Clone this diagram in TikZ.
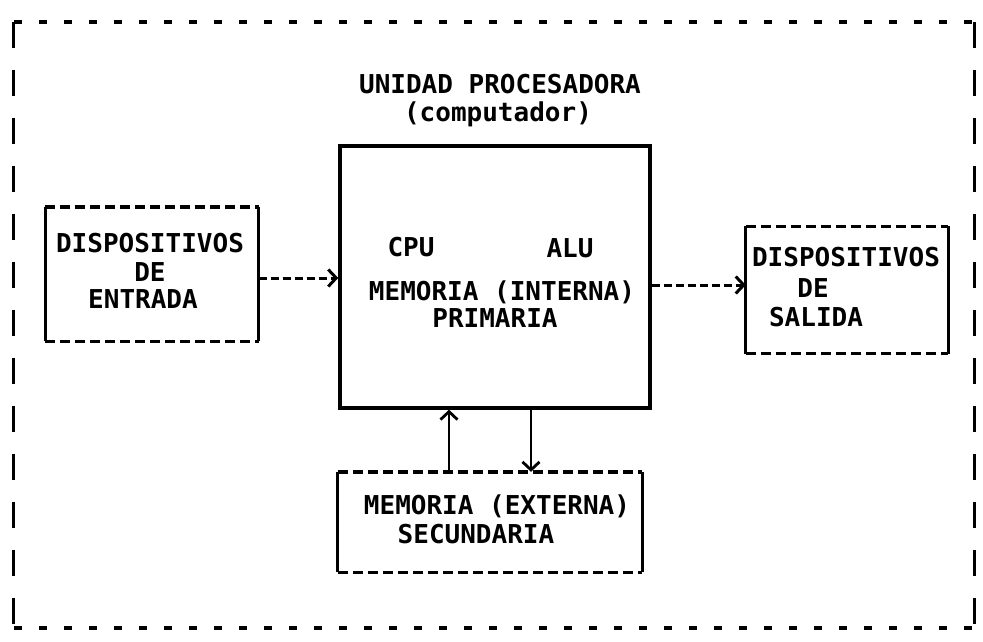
\documentclass[tikz,border=0pt]{standalone}
\usepackage{fontspec}
\setmainfont{DejaVu Sans Mono}
\usetikzlibrary{arrows.meta}
\begin{document}
\begin{tikzpicture}[x=1pt,y=-1pt,
  lbl/.style={font=\fontsize{26}{30}\selectfont\bfseries, inner sep=0pt, anchor=center},
  area/.style={rectangle, inner sep=0pt, draw=none},
  dashedge/.style={line width=3.4pt, dash pattern=on 10pt off 5pt},
  solidedge/.style={line width=3pt},
  frameh/.style={line width=3.6pt, dash pattern=on 8pt off 17pt},
  framev/.style={line width=2.8pt, dash pattern=on 26pt off 22pt},
  dashconn/.style={line width=3pt, dash pattern=on 8pt off 4pt, -{Straight Barb[length=8pt,width=17pt]}},
  solidconn/.style={line width=2.8pt, -{Straight Barb[length=8pt,width=17pt]}},
]
\useasboundingbox (0,0) rectangle (983,642);

% outer system frame
\node[area, minimum width=960pt, minimum height=606pt] (sys) at (494,325) {};
\draw[frameh] (sys.north west) -- (sys.north east);
\draw[frameh] (sys.south west) -- (sys.south east);
\draw[framev] (sys.north west) -- (sys.south west);
\draw[framev] (sys.north east) -- (sys.south east);

% title
\node[lbl] (t1) at (500,84) {UNIDAD PROCESADORA};
\node[lbl] (t2) at (498,114) {(computador)};

% processing unit
\node[area, draw, line width=3.4pt, minimum width=310pt, minimum height=262pt] (proc) at (495,277) {};
\node[lbl] (cpu) at (411,247) {CPU};
\node[lbl] (alu) at (570,248) {ALU};
\node[lbl] (mem1) at (502,292) {MEMORIA (INTERNA)};
\node[lbl] (mem2) at (495,318) {PRIMARIA};

% input devices
\node[area, minimum width=213pt, minimum height=134pt] (in) at (152,274) {};
\draw[dashedge] (in.north west) -- (in.north east);
\draw[dashedge] (in.south west) -- (in.south east);
\draw[solidedge] (in.north west) -- (in.south west);
\draw[solidedge] (in.north east) -- (in.south east);
\node[lbl] (in1) at (150,243) {DISPOSITIVOS};
\node[lbl] (in2) at (150,272) {DE};
\node[lbl] (in3) at (143,299) {ENTRADA};

% output devices
\node[area, minimum width=202pt, minimum height=127pt] (out) at (847,290) {};
\draw[dashedge] (out.north west) -- (out.north east);
\draw[dashedge] (out.south west) -- (out.south east);
\draw[solidedge] (out.north west) -- (out.south west);
\draw[solidedge] (out.north east) -- (out.south east);
\node[lbl] (out1) at (846,257) {DISPOSITIVOS};
\node[lbl] (out2) at (813,288) {DE};
\node[lbl] (out3) at (816,317) {SALIDA};

% secondary memory
\node[area, minimum width=304pt, minimum height=100pt] (sec) at (490,522) {};
\draw[dashedge] (sec.north west) -- (sec.north east);
\draw[dashedge] (sec.south west) -- (sec.south east);
\draw[solidedge] (sec.north west) -- (sec.south west);
\draw[solidedge] (sec.north east) -- (sec.south east);
\node[lbl] (sec1) at (497,506) {MEMORIA (EXTERNA)};
\node[lbl] (sec2) at (476,534) {SECUNDARIA};

% connectors
\draw[dashconn] (in.east |- 0,278) -- (proc.west |- 0,278);
\draw[dashconn] (proc.east |- 0,285) -- (out.west |- 0,285);
\draw[solidconn] (sec.north -| 449,0) -- (proc.south -| 449,0);
\draw[solidconn] (proc.south -| 531,0) -- (sec.north -| 531,0);
\end{tikzpicture}
\end{document}
